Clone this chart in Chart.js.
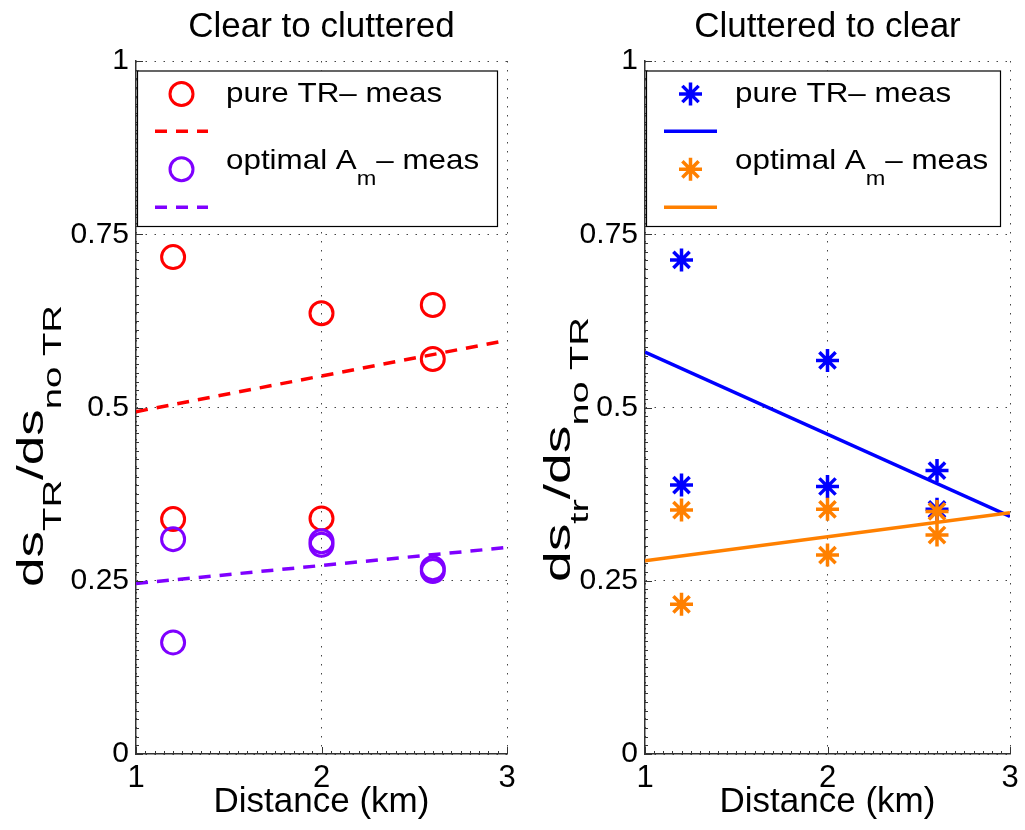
<!DOCTYPE html>
<html>
<head>
<meta charset="utf-8">
<script src="https://cdn.jsdelivr.net/npm/chart.js@4"></script>
<style>
  html, body { margin: 0; padding: 0; background: #fff; }
  #wrap { position: relative; width: 1025px; height: 830px; }
  #wrap canvas { position: absolute; left: 0; top: 0; }
</style>
</head>
<body>
<div id="wrap">
  <canvas id="left" width="1025" height="830"></canvas>
  <canvas id="right" width="1025" height="830"></canvas>
</div>
<script>
// tick positions and labels
const xTicks = [1, 2, 3];
const xTickLabels = ['1', '2', '3'];
const yTicks = [0, 0.25, 0.5, 0.75, 1];
const yTickLabels = ['0', '0.25', '0.5', '0.75', '1'];

// distances where the measurements were taken (km)
const measX = [1.2, 1.2, 2, 2, 2.6, 2.6];
const fitX = [1, 3];

// clear to cluttered
const clearTrY = [0.717, 0.339, 0.636, 0.340, 0.648, 0.570];
const clearAmY = [0.310, 0.161, 0.307, 0.302, 0.268, 0.264];
const clearTrFit = [0.494, 0.597];
const clearAmFit = [0.246, 0.298];

// cluttered to clear
const clutTrY = [0.713, 0.388, 0.568, 0.386, 0.409, 0.353];
const clutAmY = [0.352, 0.216, 0.353, 0.287, 0.350, 0.316];
const clutTrFit = [0.580, 0.343];
const clutAmFit = [0.279, 0.348];

const FONT = '"Liberation Sans", Arial, Helvetica, sans-serif';
Chart.defaults.font.family = FONT;
Chart.defaults.color = '#000';

function fontStr(size) { return size + 'px ' + FONT; }
function pts(xs, ys) { return xs.map((x, i) => ({ x: x, y: ys[i] })); }

// text with subscripts, optionally rotated and stretched to a length
function drawParts(ctx, parts, x, y, o) {
  ctx.save();
  ctx.translate(x, y);
  if (o.rotate) ctx.rotate(o.rotate);
  let total = 0;
  parts.forEach(([t, sub]) => {
    ctx.font = fontStr(sub ? o.sub : o.main);
    total += ctx.measureText(t).width;
  });
  ctx.scale(o.len ? o.len / total : (o.stretch || 1), 1);
  ctx.textBaseline = 'alphabetic';
  ctx.textAlign = 'left';
  ctx.fillStyle = '#000';
  let cx = 0;
  parts.forEach(([t, sub]) => {
    ctx.font = fontStr(sub ? o.sub : o.main);
    ctx.fillText(t, cx, sub ? o.subDy : 0);
    cx += ctx.measureText(t).width;
  });
  ctx.restore();
}

function drawMarker(ctx, style, color, x, y) {
  ctx.save();
  ctx.strokeStyle = color;
  ctx.lineWidth = style === 'circle' ? 3 : 3.5;
  ctx.beginPath();
  if (style === 'circle') {
    ctx.arc(x, y, 11.5, 0, Math.PI * 2);
  } else {
    for (let k = 0; k < 4; k++) {
      const a = k * Math.PI / 4;
      ctx.moveTo(x - Math.cos(a) * 11.5, y - Math.sin(a) * 11.5);
      ctx.lineTo(x + Math.cos(a) * 11.5, y + Math.sin(a) * 11.5);
    }
  }
  ctx.stroke();
  ctx.restore();
}

function decoPlugin(panel) {
  return {
    id: 'deco',
    afterDraw(chart) {
      const ctx = chart.ctx;
      const a = chart.chartArea;
      const xs = chart.scales.x, ys = chart.scales.y;

      // inward ticks on left and bottom axes
      ctx.save();
      ctx.strokeStyle = '#333';
      ctx.lineWidth = 1;
      ctx.beginPath();
      for (let i = 0; i <= 40; i++) {
        const px = Math.round(xs.getPixelForValue(1 + i * 0.05)) + 0.5;
        const len = i % 20 === 0 ? 7 : 3;
        ctx.moveTo(px, a.bottom);
        ctx.lineTo(px, a.bottom - len);
      }
      for (let i = 0; i <= 80; i++) {
        const py = Math.round(ys.getPixelForValue(i * 0.0125)) + 0.5;
        const len = i % 20 === 0 ? 7 : 3;
        ctx.moveTo(a.left, py);
        ctx.lineTo(a.left + len, py);
      }
      ctx.stroke();
      ctx.restore();

      // y axis label
      drawParts(ctx, panel.yLabel, panel.yLabelX, panel.yLabelY,
        { rotate: -Math.PI / 2, main: 36, sub: 26, subDy: 18, len: panel.yLabelLen });

      // legend
      const bl = a.left + 1, bt = a.top + 9.5;
      const br = a.right - 10, bb = a.top + 165;
      ctx.save();
      ctx.fillStyle = '#fff';
      ctx.fillRect(bl, bt, br - bl, bb - bt);
      ctx.strokeStyle = '#000';
      ctx.lineWidth = 1.2;
      ctx.strokeRect(bl + 0.5, bt + 0.5, br - bl, bb - bt);
      panel.series.forEach((s, i) => {
        const my = bt + (i === 0 ? 23.5 : 98.8);
        const ly = bt + (i === 0 ? 60.8 : 136.8);
        drawMarker(ctx, s.marker, s.color, bl + 44.5, my);
        ctx.beginPath();
        ctx.setLineDash(s.dash);
        ctx.lineWidth = 3.5;
        ctx.strokeStyle = s.color;
        ctx.moveTo(bl + 18, ly);
        ctx.lineTo(bl + 71, ly);
        ctx.stroke();
        ctx.setLineDash([]);
      });
      const txt = { main: 28, sub: 21, subDy: 16, stretch: 1.12 };
      drawParts(ctx, [['pure TR\u2013 meas', 0]], bl + 89, bt + 31.5, txt);
      drawParts(ctx, [['optimal A', 0], ['m', 1], ['\u2013 meas', 0]], bl + 89, bt + 98, txt);
      ctx.restore();
    }
  };
}

function makePanel(panel) {
  const datasets = [];
  panel.series.forEach((s, i) => {
    const bw = s.marker === 'circle' ? 3 : 3.5;
    datasets.push({
      type: 'scatter',
      data: pts(measX, s.y),
      order: 4 - i,
      pointStyle: s.marker === 'circle' ? 'circle' : 'star',
      pointRadius: 11.5,
      pointHoverRadius: 11.5,
      borderColor: s.color,
      pointBorderColor: s.color,
      backgroundColor: 'rgba(0,0,0,0)',
      pointBackgroundColor: 'rgba(0,0,0,0)',
      borderWidth: bw,
      pointBorderWidth: bw
    });
  });
  panel.series.forEach((s, i) => {
    datasets.push({
      type: 'line',
      data: pts(fitX, s.fit),
      order: 2 - i,
      borderColor: s.color,
      borderWidth: 3.5,
      borderDash: s.dash,
      pointRadius: 0,
      fill: false,
      tension: 0
    });
  });

  return new Chart(document.getElementById(panel.id), {
    type: 'scatter',
    data: { datasets: datasets },
    options: {
      responsive: false,
      animation: false,
      events: [],
      layout: { padding: { left: panel.padLeft, right: panel.padRight, top: 0, bottom: 0 } },
      plugins: {
        legend: { display: false },
        tooltip: { enabled: false },
        title: {
          display: true,
          text: panel.title,
          fullSize: false,
          color: '#000',
          font: { size: 35, weight: 'normal' },
          padding: { top: 6, bottom: 13 }
        }
      },
      scales: {
        x: {
          type: 'linear',
          min: 1,
          max: 3,
          afterBuildTicks: s => { s.ticks = xTicks.map(v => ({ value: v })); },
          afterFit: s => { s.height = 76; },
          ticks: {
            font: { size: 31 }, color: '#000', padding: 6, maxRotation: 0, autoSkip: false,
            callback: v => xTickLabels[xTicks.indexOf(v)]
          },
          grid: { color: '#444', lineWidth: 1, drawTicks: false },
          border: { display: true, color: '#333', width: 1.5, dash: [1.5, 7.5] },
          title: {
            display: true,
            text: 'Distance (km)',
            color: '#000',
            font: { size: 35 },
            padding: { top: 0, bottom: 7 }
          }
        },
        y: {
          type: 'linear',
          min: 0,
          max: 1,
          afterBuildTicks: s => { s.ticks = yTicks.map(v => ({ value: v })); },
          afterFit: s => { s.width = panel.yWidth; },
          ticks: {
            font: { size: 30 }, color: '#000', padding: 7, autoSkip: false,
            callback: v => yTickLabels[yTicks.indexOf(v)]
          },
          grid: { color: '#444', lineWidth: 1, drawTicks: false },
          border: { display: true, color: '#333', width: 1.5, dash: [1.5, 7.5] }
        }
      }
    },
    plugins: [decoPlugin(panel)]
  });
}

makePanel({
  id: 'left',
  title: 'Clear to cluttered',
  padLeft: 0, padRight: 518, yWidth: 136,
  yLabel: [['ds', 0], ['TR', 1], ['/ds', 0], ['no TR', 1]],
  yLabelX: 43, yLabelY: 587, yLabelLen: 282,
  series: [
    { y: clearTrY, fit: clearTrFit, color: '#ff0000', marker: 'circle', dash: [12, 9] },
    { y: clearAmY, fit: clearAmFit, color: '#7f00ff', marker: 'circle', dash: [12, 9] }
  ]
});

makePanel({
  id: 'right',
  title: 'Cluttered to clear',
  padLeft: 512, padRight: 10, yWidth: 133,
  yLabel: [['ds', 0], ['tr', 1], ['/ds', 0], ['no TR', 1]],
  yLabelX: 570, yLabelY: 582, yLabelLen: 265,
  series: [
    { y: clutTrY, fit: clutTrFit, color: '#0000ff', marker: 'star', dash: [] },
    { y: clutAmY, fit: clutAmFit, color: '#ff8000', marker: 'star', dash: [] }
  ]
});
</script>
</body>
</html>
